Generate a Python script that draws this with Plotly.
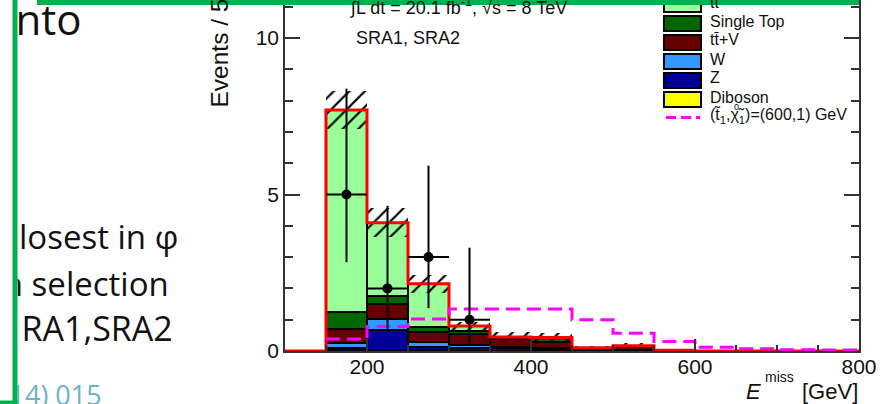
import plotly.graph_objects as go

FIG_W, FIG_H = 885, 404

# ---- binning (GeV) ----
bin_edges = list(range(100, 801, 50))
bin_centers = [e + 25 for e in bin_edges[:-1]]

# ---- background expectations per bin (events / 50 GeV) ----
diboson    = [0, 0.03, 0.02, 0.02, 0.01, 0.01, 0.01, 0.00, 0.00, 0.00, 0, 0, 0, 0]
z_jets     = [0, 0.07, 0.64, 0.10, 0.09, 0.09, 0.07, 0.02, 0.03, 0.00, 0, 0, 0, 0]
w_jets     = [0, 0.15, 0.36, 0.18, 0.10, 0.03, 0.02, 0.01, 0.01, 0.00, 0, 0, 0, 0]
ttbar_v    = [0, 0.45, 0.48, 0.30, 0.35, 0.25, 0.20, 0.05, 0.10, 0.02, 0, 0, 0, 0]
single_top = [0, 0.55, 0.25, 0.18, 0.10, 0.05, 0.10, 0.02, 0.03, 0.00, 0, 0, 0, 0]
ttbar      = [0, 6.45, 2.35, 1.37, 0.15, 0.02, 0.03, 0.00, 0.00, 0.00, 0, 0, 0, 0]
bkg_unc    = [0, 0.60, 0.47, 0.29, 0.12, 0.15, 0.15, 0.05, 0.08, 0.02, 0, 0, 0, 0]

# ---- signal (stop 600, LSP 1) ----
signal = [0, 0.38, 0.78, 1.02, 1.34, 1.34, 1.34, 1.00, 0.57, 0.30, 0.12, 0.07, 0.04, 0.03]

# ---- observed data ----
data_x = [175, 225, 275, 325]
data_y = [5, 2, 3, 1]
data_err_up = [3.38, 2.64, 2.92, 2.30]
data_err_dn = [2.16, 1.29, 1.63, 0.83]

x_ticks = [200, 400, 600, 800]
y_ticks = [0, 5, 10]

# stacking order, bottom first
stack = [
    ("Diboson", diboson, "#ffff00"),
    ("Z", z_jets, "#000099"),
    ("W", w_jets, "#3399ff"),
    ("tt\u0304+V", ttbar_v, "#660000"),
    ("Single Top", single_top, "#006600"),
    ("tt\u0304", ttbar, "#99ff99"),
]

FONT = "Liberation Sans, Arial, Helvetica, sans-serif"
SLIDE_FONT = "Open Sans, Noto Sans, sans-serif"


def px(x):
    return x / FIG_W


def py(y):
    return 1 - y / FIG_H


fig = go.Figure()

# stacked backgrounds
running = [0.0] * len(bin_centers)
for name, vals, color in stack:
    fig.add_trace(go.Bar(
        x=bin_centers,
        y=[v if v > 0 else None for v in vals],
        base=running[:],
        width=50,
        marker=dict(color=color, line=dict(color="black", width=2)),
        name=name,
        hoverinfo="skip",
    ))
    running = [r + v for r, v in zip(running, vals)]
totals = running

# hatched uncertainty band
fig.add_trace(go.Bar(
    x=bin_centers,
    y=[2 * u if u > 0 else None for u in bkg_unc],
    base=[t - u for t, u in zip(totals, bkg_unc)],
    width=50,
    marker=dict(
        color="rgba(0,0,0,0)",
        line=dict(width=0),
        pattern=dict(shape="/", fgcolor="#000000", fgopacity=1, size=11, solidity=0.2,
                     fillmode="overlay"),
    ),
    hoverinfo="skip",
))

# total background outline
fig.add_trace(go.Scatter(
    x=bin_edges,
    y=totals + [totals[-1]],
    mode="lines",
    line=dict(color="#ff0000", width=3, shape="hv"),
    hoverinfo="skip",
))

# signal, drawn from its first filled bin
i0 = next(i for i, s in enumerate(signal) if s > 0)
fig.add_trace(go.Scatter(
    x=bin_edges[i0:],
    y=signal[i0:] + [signal[-1]],
    mode="lines",
    line=dict(color="#ff00ff", width=3, shape="hv", dash="14px,7px"),
    hoverinfo="skip",
))

# data points
fig.add_trace(go.Scatter(
    x=data_x,
    y=data_y,
    mode="markers",
    marker=dict(color="black", size=10),
    error_y=dict(type="data", symmetric=False, array=data_err_up, arrayminus=data_err_dn,
                 color="black", thickness=2, width=0),
    error_x=dict(type="constant", value=25, color="black", thickness=2, width=0),
    hoverinfo="skip",
))

# slide text on the left, clipped by its own panel
slide_text = ["nto", "losest in \u03c6", "n selection", "RA1,SRA2", "14) 015"]
slide_x = [15.5, 19, 2.8, 21.5, 9.5]
slide_baseline = [35, 248, 295, 340, 403]
slide_size = [42, 33, 33, 34, 27]
slide_color = ["#111111", "#111111", "#111111", "#111111", "#6db3c4"]
fig.add_trace(go.Scatter(
    x=slide_x,
    y=[b - 0.35 * s + 4.5 for b, s in zip(slide_baseline, slide_size)],
    mode="text",
    text=slide_text,
    textposition="middle right",
    textfont=dict(family=SLIDE_FONT, size=slide_size, color=slide_color),
    xaxis="x2", yaxis="y2",
    cliponaxis=True,
    hoverinfo="skip",
))

shapes = []
annotations = []

# legend
legend_rows = list(reversed(stack))
for i, (name, _, color) in enumerate(legend_rows):
    cy = 4.5 + 19 * i
    shapes.append(dict(type="rect", xref="paper", yref="paper",
                       x0=px(664), x1=px(701), y0=py(cy + 7.5), y1=py(cy - 7.5),
                       fillcolor=color, line=dict(color="black", width=2), layer="above"))
    annotations.append(dict(text=name, x=px(708), y=py(cy - 2.5), xref="paper", yref="paper",
                            xanchor="left", yanchor="middle", showarrow=False,
                            font=dict(family=FONT, size=16, color="#111")))
sig_y = 4.5 + 19 * len(legend_rows) - 1
shapes.append(dict(type="line", xref="paper", yref="paper",
                   x0=px(666), x1=px(700), y0=py(sig_y), y1=py(sig_y),
                   line=dict(color="#ff00ff", width=3, dash="10px,5px"), layer="above"))
annotations.append(dict(text="(t\u0303<sub>1</sub>,\u03c7\u0303<sub>1</sub>)=(600,1) GeV",
                        x=px(708), y=py(sig_y - 2), xref="paper", yref="paper",
                        xanchor="left", yanchor="middle", showarrow=False,
                        font=dict(family=FONT, size=16, color="#111")))
annotations.append(dict(text="0", x=px(736), y=py(107), xref="paper", yref="paper",
                        xanchor="center", yanchor="middle", showarrow=False,
                        font=dict(family=FONT, size=9, color="#111")))

# plot labels
annotations.append(dict(text="\u222bL dt = 20.1 fb<sup>-1</sup>, \u221as = 8 TeV",
                        x=px(347), y=py(6), xref="paper", yref="paper",
                        xanchor="left", yanchor="middle", showarrow=False,
                        font=dict(family=FONT, size=18, color="#111")))
annotations.append(dict(text="SRA1, SRA2", x=px(354), y=py(38.5), xref="paper", yref="paper",
                        xanchor="left", yanchor="middle", showarrow=False,
                        font=dict(family=FONT, size=18, color="#111")))
annotations.append(dict(text="Events / 50 GeV", textangle=-90,
                        x=px(219), y=py(110), xref="paper", yref="paper",
                        xanchor="center", yanchor="bottom", showarrow=False,
                        font=dict(family=FONT, size=24.5, color="#111")))
# x-axis title E_T^miss [GeV]
annotations.append(dict(text="<i>E</i>", x=px(744), y=py(391), xref="paper", yref="paper",
                        xanchor="left", yanchor="middle", showarrow=False,
                        font=dict(family=FONT, size=22, color="#111")))
annotations.append(dict(text="miss", x=px(763), y=py(377), xref="paper", yref="paper",
                        xanchor="left", yanchor="middle", showarrow=False,
                        font=dict(family=FONT, size=14, color="#111")))
annotations.append(dict(text="T", x=px(764), y=py(410), xref="paper", yref="paper",
                        xanchor="left", yanchor="middle", showarrow=False,
                        font=dict(family=FONT, size=14, color="#111")))
annotations.append(dict(text="[GeV]", x=px(800), y=py(391), xref="paper", yref="paper",
                        xanchor="left", yanchor="middle", showarrow=False,
                        font=dict(family=FONT, size=22, color="#111")))

# green frame lines
GREEN = "#00b050"
shapes.append(dict(type="rect", xref="paper", yref="paper", x0=px(37), x1=px(859),
                   y0=py(5), y1=py(0), fillcolor=GREEN, line=dict(width=0), layer="above"))
shapes.append(dict(type="rect", xref="paper", yref="paper", x0=px(12.5), x1=px(17.5),
                   y0=py(404), y1=py(0), fillcolor=GREEN, line=dict(width=0), layer="above"))
shapes.append(dict(type="rect", xref="paper", yref="paper", x0=px(0), x1=px(17.5),
                   y0=py(404), y1=py(400.5), fillcolor=GREEN, line=dict(width=0), layer="above"))

axis_color = "#333333"
fig.update_layout(
    width=FIG_W, height=FIG_H,
    autosize=False,
    margin=dict(l=0, r=0, t=0, b=0, pad=0, autoexpand=False),
    paper_bgcolor="white", plot_bgcolor="rgba(0,0,0,0)",
    barmode="overlay", bargap=0,
    showlegend=False,
    xaxis=dict(
        domain=[px(285), px(859)], range=[100, 800], anchor="y", automargin=False,
        tickvals=x_ticks, ticks="inside", ticklen=12, tickwidth=1.5, tickcolor=axis_color,
        minor=dict(ticks="inside", ticklen=6, tick0=100, dtick=50, tickwidth=1.5, tickcolor=axis_color),
        showline=True, linecolor=axis_color, linewidth=1.5,
        showgrid=False, zeroline=False, ticklabelstandoff=-4,
        tickfont=dict(family=FONT, size=21, color="#111"),
    ),
    yaxis=dict(
        domain=[py(351), 1], range=[0, 351 / 31.3], anchor="x", automargin=False,
        tickvals=y_ticks, ticks="inside", ticklen=15, tickwidth=1.5, tickcolor=axis_color,
        minor=dict(ticks="inside", ticklen=8, dtick=1, tickwidth=1.5, tickcolor=axis_color),
        showline=True, linecolor=axis_color, linewidth=1.5, mirror="ticks",
        showgrid=False, zeroline=False,
        tickfont=dict(family=FONT, size=21, color="#111"),
    ),
    xaxis2=dict(domain=[px(17.5), px(283)], range=[17.5, 283], visible=False,
                anchor="y2", automargin=False),
    yaxis2=dict(domain=[0, 1], range=[FIG_H, 0], visible=False,
                anchor="x2", automargin=False),
    shapes=shapes,
    annotations=annotations,
)

fig.write_html("out.html")
